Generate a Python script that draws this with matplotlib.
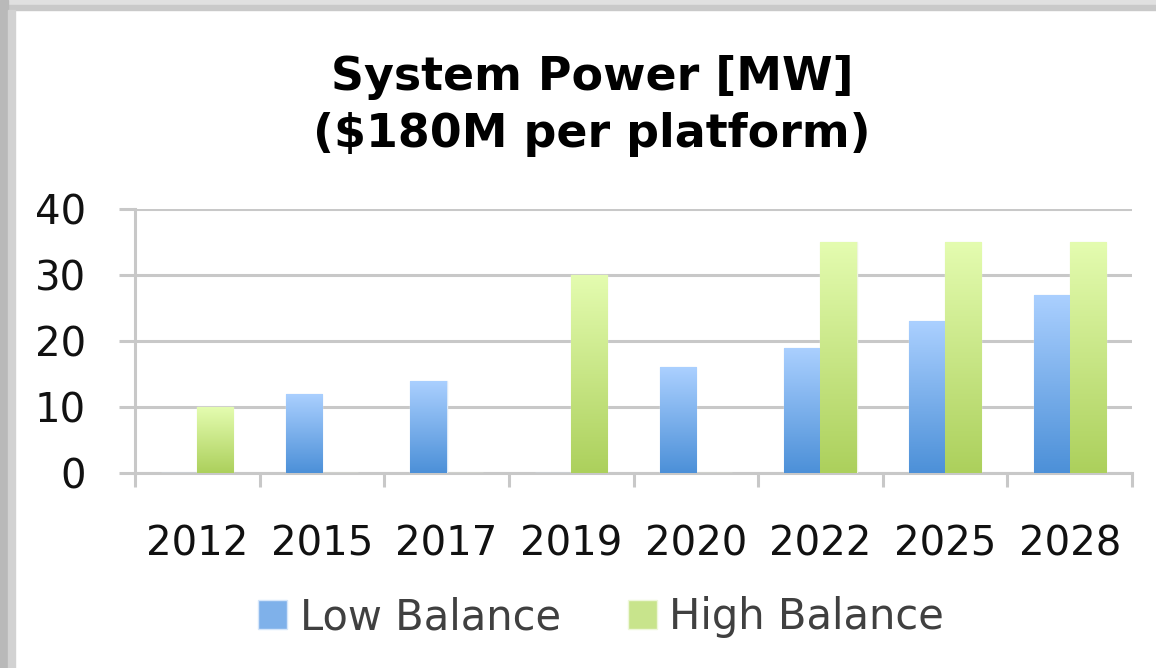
import numpy as np
import matplotlib
matplotlib.use("Agg")
import matplotlib.pyplot as plt
from matplotlib.colors import LinearSegmentedColormap
from matplotlib.patches import Rectangle, Patch

years = ["2012", "2015", "2017", "2019", "2020", "2022", "2025", "2028"]
low_balance = [0, 12, 14, 0, 16, 19, 23, 27]
high_balance = [10, 0, 0, 30, 0, 35, 35, 35]

title = "System Power [MW]\n($180M per platform)"
series_names = ["Low Balance", "High Balance"]

blue_cmap = LinearSegmentedColormap.from_list("blue", ["#4c90d8", "#abd0ff"])
green_cmap = LinearSegmentedColormap.from_list("green", ["#acd05c", "#e4fcb0"])

plt.rcParams["font.family"] = ["DejaVu Sans"]

fig = plt.figure(figsize=(11.56, 6.68), dpi=100)
fig.patch.set_facecolor("white")

# grey frame at top and left like the screenshot
fig.patches.append(Rectangle((0, 1 - 5 / 668), 1, 5 / 668, transform=fig.transFigure,
                             color="#e0e0e0", zorder=0))
fig.patches.append(Rectangle((0, 1 - 10 / 668), 1, 5 / 668, transform=fig.transFigure,
                             color="#c9c9c9", zorder=0))
fig.patches.append(Rectangle((0, 0), 8 / 1156, 1, transform=fig.transFigure,
                             color="#b9b9b9", zorder=0))
fig.patches.append(Rectangle((8 / 1156, 0), 7 / 1156, 1 - 10 / 668, transform=fig.transFigure,
                             color="#d2d2d2", zorder=0))

ax = fig.add_axes([135 / 1156, 1 - 473 / 668, (1132 - 135) / 1156, (473 - 209) / 668])

x = np.arange(len(years))
w = 0.29


def gradient_bars(bars, cmap):
    grad = np.linspace(0, 1, 256).reshape(-1, 1)
    for b in bars:
        if b.get_height() <= 0:
            continue
        x0, y0 = b.get_x(), b.get_y()
        x1, y1 = x0 + b.get_width(), y0 + b.get_height()
        im = ax.imshow(grad, cmap=cmap, aspect="auto", origin="lower",
                       extent=[x0, x1, y0, y1], zorder=3)
        im.set_clip_path(b)


bars_low = ax.bar(x - w / 2, low_balance, w, color="none", edgecolor="#dbe8f7",
                  linewidth=1.0, zorder=2)
bars_high = ax.bar(x + w / 2, high_balance, w, color="none", edgecolor="#eef5df",
                   linewidth=1.0, zorder=2)
gradient_bars(bars_low, blue_cmap)
gradient_bars(bars_high, green_cmap)

ax.set_xlim(-0.5, len(years) - 0.5)
ax.set_ylim(0, 40)
ax.set_yticks([0, 10, 20, 30, 40])

grid_c = "#c8c8c8"
ax.yaxis.grid(True, color=grid_c, linewidth=2.2, zorder=1)
ax.set_axisbelow(True)
for s in ["top", "right"]:
    ax.spines[s].set_visible(False)
for s in ["left", "bottom"]:
    ax.spines[s].set_color(grid_c)
    ax.spines[s].set_linewidth(2.2)
    ax.spines[s].set_zorder(1)

ax.set_xticks(x)
ax.set_xticklabels(years)
ax.set_xticks(np.arange(-0.5, len(years)), minor=True)
ax.tick_params(axis="x", which="major", length=0, pad=37, labelsize=29, labelcolor="#111111")
ax.tick_params(axis="x", which="minor", length=10, width=2.2, color=grid_c)
ax.tick_params(axis="y", length=11.5, width=2.2, color=grid_c, pad=24,
               labelsize=29, labelcolor="#111111")

fig.text(0.512, 1 - 106 / 668, title, ha="center", va="center", fontsize=33,
         fontweight="bold", color="#000000", linespacing=1.35)

handles = [Patch(facecolor="#7fb1ea", edgecolor="#d6e6fa"),
           Patch(facecolor="#c8e48c", edgecolor="#eef7da")]
fig.legend(handles, series_names, loc="center", ncol=2, frameon=False,
           bbox_to_anchor=(0.52, 1 - 617 / 668), fontsize=30, labelcolor="#404040",
           handlelength=0.7, handleheight=0.7, handletextpad=0.3, columnspacing=1.6)

fig.savefig("out.png", dpi=100)
